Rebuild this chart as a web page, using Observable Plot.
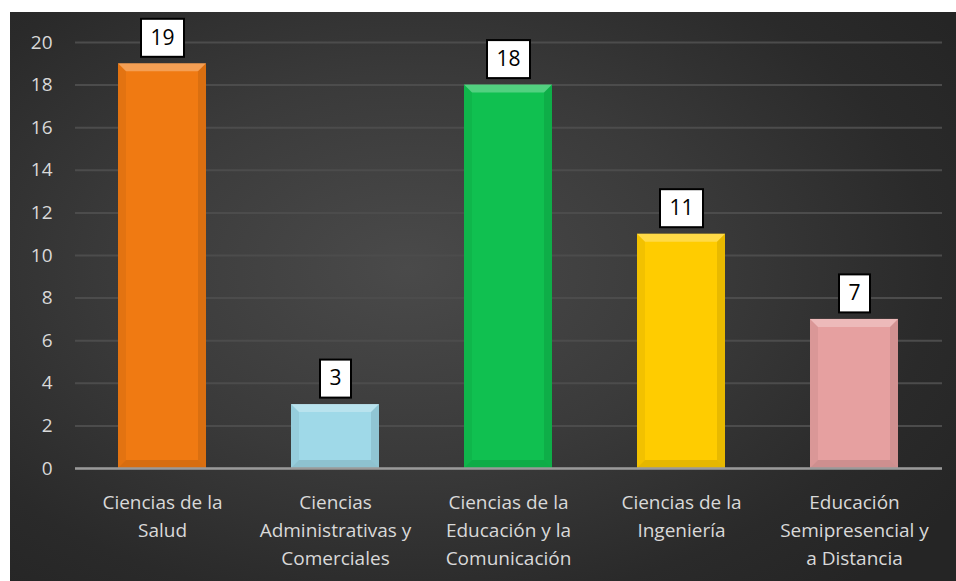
<!DOCTYPE html>
<html>
<head>
<meta charset="utf-8">
<script src="https://cdn.jsdelivr.net/npm/d3@7"></script>
<script src="https://cdn.jsdelivr.net/npm/@observablehq/plot@0.6"></script>
<style>
  html, body { margin: 0; padding: 0; background: #ffffff; }
  #frame {
    position: absolute; left: 10px; top: 12px; width: 946px; height: 569px;
    background: radial-gradient(ellipse 70% 75% at 42% 45%, #4a4a4a 0%, #3a3a3a 45%, #2a2a2a 80%, #252525 100%);
    overflow: hidden;
  }
  #frame svg { display: block; overflow: visible; }
</style>
</head>
<body>
<div id="frame"></div>
<script>
const categories = [
  "Ciencias de la\nSalud",
  "Ciencias\nAdministrativas y\nComerciales",
  "Ciencias de la\nEducación y la\nComunicación",
  "Ciencias de la\nIngeniería",
  "Educación\nSemipresencial y\na Distancia"
];
const values = [19, 3, 18, 11, 7];
const colors = ["#f07a12", "#9fd9e8", "#10c050", "#ffcc00", "#e6a0a0"];
const yTicks = [0, 2, 4, 6, 8, 10, 12, 14, 16, 18, 20];

const data = categories.map((c, i) => ({cat: c, value: values[i], color: colors[i]}));
const FONT = "'Open Sans', sans-serif";
const NS = "http://www.w3.org/2000/svg";

function bevel(index, scales, vals, dims, context, next) {
  const g = next(index, scales, vals, dims, context);
  const rects = Array.from(g.querySelectorAll("rect"));
  for (const r of rects) {
    const x = +r.getAttribute("x"), y = +r.getAttribute("y");
    const w = +r.getAttribute("width"), h = +r.getAttribute("height");
    const b = Math.min(8, h / 3);
    const parts = [
      {pts: [[x, y], [x + w, y], [x + w - b, y + b], [x + b, y + b]], fill: "#ffffff", op: 0.28},
      {pts: [[x, y], [x + b, y + b], [x + b, y + h - b], [x, y + h]], fill: "#000000", op: 0.05},
      {pts: [[x + w, y], [x + w, y + h], [x + w - b, y + h - b], [x + w - b, y + b]], fill: "#000000", op: 0.09},
      {pts: [[x, y + h], [x + b, y + h - b], [x + w - b, y + h - b], [x + w, y + h]], fill: "#000000", op: 0.10}
    ];
    for (const p of parts) {
      const poly = document.createElementNS(NS, "polygon");
      poly.setAttribute("points", p.pts.map(q => q.join(",")).join(" "));
      poly.setAttribute("fill", p.fill);
      poly.setAttribute("fill-opacity", p.op);
      g.appendChild(poly);
    }
  }
  return g;
}

function boxes(index, scales, vals, dims, context, next) {
  const g = next(index, scales, vals, dims, context);
  const first = g.firstChild;
  for (const i of index) {
    const d = data[i];
    const cx = vals.x[i];
    const cy = vals.y[i];
    const w = String(d.value).length * 12 + 19;
    const h = 38;
    const rect = document.createElementNS(NS, "rect");
    rect.setAttribute("x", cx - w / 2);
    rect.setAttribute("y", cy - h / 2);
    rect.setAttribute("width", w);
    rect.setAttribute("height", h);
    rect.setAttribute("fill", "#ffffff");
    rect.setAttribute("stroke", "#000000");
    rect.setAttribute("stroke-width", 2);
    g.insertBefore(rect, first);
  }
  return g;
}

const chart = Plot.plot({
  width: 946,
  height: 569,
  marginLeft: 65,
  marginRight: 14,
  marginTop: 30,
  marginBottom: 113,
  style: {background: "transparent", fontFamily: FONT, color: "#d9d9d9"},
  x: {domain: categories, paddingInner: 0.49, paddingOuter: 0.245, label: null, axis: null},
  y: {domain: [0, 20], label: null, axis: null},
  color: {type: "identity"},
  marks: [
    Plot.gridY(yTicks, {stroke: "#4c4c4c", strokeOpacity: 1, strokeWidth: 2}),
    Plot.axisY(yTicks, {tickSize: 0, tickPadding: 23, fontSize: 19, fill: "#d9d9d9", label: null, tickFormat: d => String(d)}),
    Plot.barY(data, {x: "cat", y: "value", fill: "color", render: bevel}),
    Plot.ruleY([0], {stroke: "#9a9a9a", strokeWidth: 2.5}),
    Plot.text(data, {x: "cat", y: "value", text: d => String(d.value), dy: -26, fontSize: 21, fill: "#000000", lineAnchor: "middle", render: boxes}),
    Plot.text(categories, {x: d => d, y: () => 0, text: d => d, lineAnchor: "top", dy: 21, fontSize: 19, lineHeight: 1.47, fill: "#d9d9d9", textAnchor: "middle"})
  ]
});
document.getElementById("frame").appendChild(chart);
</script>
</body>
</html>
